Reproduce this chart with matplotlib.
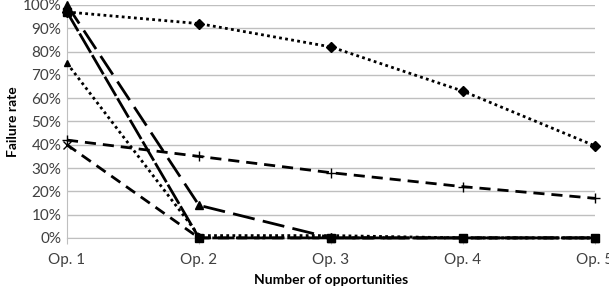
import matplotlib
matplotlib.use("Agg")
import matplotlib.pyplot as plt
from matplotlib.ticker import PercentFormatter

categories = ["Op. 1", "Op. 2", "Op. 3", "Op. 4", "Op. 5"]
s_diamond = [97, 92, 82, 63, 39.5]
s_plus = [42, 35, 28, 22, 17]
s_square = [97, 0, 0, 0, 0]
s_tri_long = [100, 14, 0, 0, 0]
s_tri_dot = [75, 1, 1, 0, 0]
s_x = [40, 0, 0, 0, 0]

plt.rcParams['font.family'] = ['Lato', 'DejaVu Sans']

fig = plt.figure(figsize=(6.09, 2.93), dpi=100)
ax = fig.add_axes([0.110, 0.188, 0.867, 0.795])
x = list(range(len(categories)))

kw = dict(color='black', lw=2, clip_on=False, zorder=3)
ax.plot(x, s_x, ls=(0, (4, 2.5)), marker='x', ms=6, mew=1, **kw)
ax.plot(x, s_tri_dot, ls=(0, (1, 1.2)), marker='^', ms=5, **kw)
ax.plot(x, s_plus, ls=(0, (4, 2.5)), marker='+', ms=7, mew=1, **kw)
ax.plot(x, s_tri_long, ls=(0, (8, 3)), marker='^', ms=6, **kw)
ax.plot(x, s_square, ls=(0, (8, 1)), marker='s', ms=6, **kw)
ax.plot(x, s_diamond, ls=(0, (1, 1.2)), marker='D', ms=5.5, **kw)

ax.set_xlim(0, 4)
ax.set_ylim(0, 100)
ax.set_yticks(range(0, 101, 10))
ax.yaxis.set_major_formatter(PercentFormatter(decimals=0))
ax.set_xticks(x)
ax.set_xticklabels(categories)
ax.grid(axis='y', color='#bfbfbf', lw=1)
ax.set_axisbelow(True)
for s in ['top', 'right']:
    ax.spines[s].set_visible(False)
for s in ['left', 'bottom']:
    ax.spines[s].set_color('#bfbfbf')
ax.tick_params(axis='y', length=0, labelsize=11, colors='#404040', pad=4)
ax.tick_params(axis='x', length=4, color='#bfbfbf', labelsize=11, labelcolor='#404040', pad=7)
ax.set_xlabel("Number of opportunities", fontsize=10, fontweight='bold', color='black', labelpad=5)
ax.set_ylabel("Failure rate", fontsize=10, fontweight='bold', color='black', labelpad=3)

fig.savefig("out.png", dpi=100)
